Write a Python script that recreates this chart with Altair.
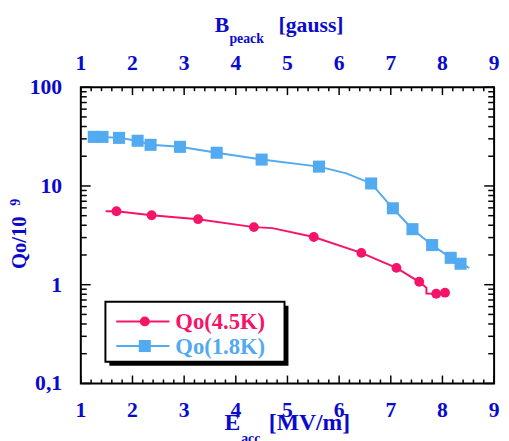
import altair as alt
import pandas as pd

# ---- data ----
E_45 = [1.48, 1.69, 2.37, 3.27, 4.35, 4.71, 5.51, 6.43, 7.11, 7.55, 7.69, 7.69, 7.88, 8.05]
Q_45 = [5.54, 5.54, 5.05, 4.61, 3.83, 3.74, 3.04, 2.10, 1.48, 1.07, 0.93, 0.815, 0.81, 0.83]
M_45 = [0, 1, 1, 1, 1, 0, 1, 1, 1, 1, 0, 0, 1, 1]

E_18 = [1.25, 1.42, 1.74, 2.10, 2.35, 2.92, 3.63, 4.50, 5.61, 6.14, 6.62, 7.04, 7.42, 7.80, 8.16, 8.35, 8.52]
Q_18 = [31.4, 31.4, 30.7, 28.7, 26.1, 24.9, 21.7, 18.5, 15.7, 13.4, 10.6, 5.94, 3.65, 2.52, 1.87, 1.63, 1.48]
M_18 = [1, 1, 1, 1, 1, 1, 1, 1, 1, 0, 1, 1, 1, 1, 1, 1, 0]

x_labels = ["1", "2", "3", "4", "5", "6", "7", "8", "9"]
x_label_vals = [1, 2, 3, 4, 5, 6, 7, 8, 9]
y_labels = ["100", "10", "1", "0,1"]
y_label_vals = [100, 10, 1, 0.1]
series_names = ["Qo(4.5K)", "Qo(1.8K)"]

x_major = [1, 2, 3, 4, 5, 6, 7, 8, 9]
x_minor = [round(1 + 0.2 * i, 1) for i in range(41) if i % 5]
y_major = [0.1, 1, 10, 100]
y_minor = [m * 10 ** e for e in (-1, 0, 1) for m in range(2, 10)]

RED = "#F5146A"
BLUE = "#52AAF0"
TXT = "#0A0ACC"
FONT = "Liberation Serif"
W, H = 420, 301

df45 = pd.DataFrame({"E": E_45, "Q": Q_45, "m": M_45, "i": range(len(E_45))})
df18 = pd.DataFrame({"E": E_18, "Q": Q_18, "m": M_18, "i": range(len(E_18))})

xs = alt.Scale(domain=[1, 9], nice=False, zero=False)
ys = alt.Scale(type="log", domain=[0.1, 100], nice=False)
X = lambda f: alt.X(f, scale=xs, axis=None)
Y = lambda f: alt.Y(f, scale=ys, axis=None)

one = pd.DataFrame({"a": [0]})

layers = []

# series
layers.append(alt.Chart(df45).mark_line(color=RED, strokeWidth=2).encode(x=X("E:Q"), y=Y("Q:Q"), order="i:Q"))
layers.append(alt.Chart(df45).transform_filter("datum.m == 1").mark_circle(color=RED, size=100, opacity=1).encode(x=X("E:Q"), y=Y("Q:Q")))
layers.append(alt.Chart(df18).mark_line(color=BLUE, strokeWidth=2).encode(x=X("E:Q"), y=Y("Q:Q"), order="i:Q"))
layers.append(alt.Chart(df18).transform_filter("datum.m == 1").mark_square(color=BLUE, size=150, opacity=1).encode(x=X("E:Q"), y=Y("Q:Q")))

# ticks (inward)
dxM = pd.DataFrame({"v": x_major})
dxm = pd.DataFrame({"v": x_minor})
dyM = pd.DataFrame({"v": y_major})
dym = pd.DataFrame({"v": y_minor})
for d, L in ((dxM, 8), (dxm, 4)):
    layers.append(alt.Chart(d).mark_rule(color="black", strokeWidth=1.5).encode(x=X("v:Q"), y=alt.value(H), y2=alt.value(H - L)))
    layers.append(alt.Chart(d).mark_rule(color="black", strokeWidth=1.5).encode(x=X("v:Q"), y=alt.value(0), y2=alt.value(L)))
for d, L in ((dyM, 10), (dym, 6)):
    layers.append(alt.Chart(d).mark_rule(color="black", strokeWidth=1.5).encode(y=Y("v:Q"), x=alt.value(0), x2=alt.value(L)))
    layers.append(alt.Chart(d).mark_rule(color="black", strokeWidth=1.5).encode(y=Y("v:Q"), x=alt.value(W), x2=alt.value(W - L)))

# tick labels
dxl = pd.DataFrame({"v": x_label_vals, "t": x_labels})
dyl = pd.DataFrame({"v": y_label_vals, "t": y_labels})
lab = dict(font=FONT, fontWeight="bold", fontSize=22, color=TXT)
layers.append(alt.Chart(dxl).mark_text(align="center", baseline="alphabetic", **lab).encode(x=X("v:Q"), y=alt.value(335), text="t:N"))
layers.append(alt.Chart(dxl).mark_text(align="center", baseline="alphabetic", **lab).encode(x=X("v:Q"), y=alt.value(-18), text="t:N"))
layers.append(alt.Chart(dyl).mark_text(align="right", baseline="alphabetic", dy=7, **lab).encode(y=Y("v:Q"), x=alt.value(-19), text="t:N"))

# axis titles
def txt(s, x, y, size, align="left", angle=0, baseline="alphabetic"):
    kw = dict(text=s, font=FONT, fontWeight="bold", fontSize=size, color=TXT, align=align, baseline=baseline)
    if angle:
        kw["angle"] = angle
    return alt.Chart(one).mark_text(**kw).encode(x=alt.value(x), y=alt.value(y))

layers.append(txt("B", 136, -56, 22))
layers.append(txt("peack", 151, -45, 14))
layers.append(txt("[gauss]", 201, -56, 22))
layers.append(txt("E", 146, 348, 24))
layers.append(txt("acc", 163, 362, 14))
layers.append(txt("[MV/m]", 191, 348, 24))
layers.append(txt("Qo/10", -62, 158, 21, align="center", angle=270, baseline="middle"))
layers.append(txt("9", -66, 117, 14, align="center", angle=270, baseline="middle"))

# legend box with shadow
layers.append(alt.Chart(one).mark_rect(color="black").encode(x=alt.value(29), x2=alt.value(211), y=alt.value(222), y2=alt.value(283)))
layers.append(alt.Chart(one).mark_rect(fill="white", stroke="black", strokeWidth=2).encode(x=alt.value(25), x2=alt.value(207), y=alt.value(218), y2=alt.value(279)))
for k, (col, yy) in enumerate(((RED, 238), (BLUE, 263))):
    layers.append(alt.Chart(one).mark_rule(color=col, strokeWidth=2).encode(x=alt.value(36), x2=alt.value(90), y=alt.value(yy)))
    if k == 0:
        layers.append(alt.Chart(one).mark_circle(color=col, size=100, opacity=1).encode(x=alt.value(65), y=alt.value(yy)))
    else:
        layers.append(alt.Chart(one).mark_square(color=col, size=150, opacity=1).encode(x=alt.value(65), y=alt.value(yy)))
    layers.append(alt.Chart(one).mark_text(text=series_names[k], font=FONT, fontWeight="bold", fontSize=23, color=col, align="left", baseline="middle").encode(x=alt.value(96), y=alt.value(yy + 1)))

chart = alt.layer(*layers).properties(
    width=W, height=H,
    autosize=alt.AutoSizeParams(type="none"),
    padding={"left": 74, "top": 77, "right": 7, "bottom": 55},
    background="white",
).configure_view(stroke="black", strokeWidth=2)

chart.save("out.html", embed_options={"renderer": "svg", "actions": False})
